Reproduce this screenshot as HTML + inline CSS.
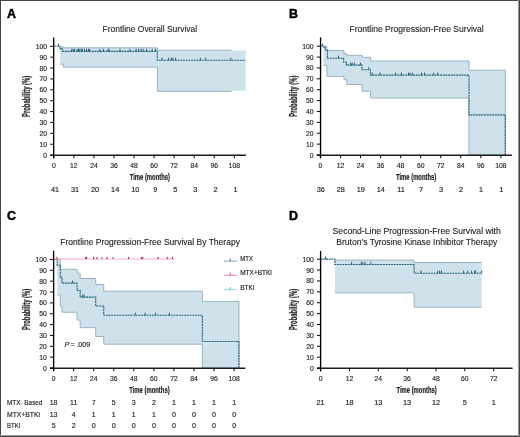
<!DOCTYPE html><html><head><meta charset="utf-8"><style>html,body{margin:0;padding:0;background:#fff;overflow:hidden}svg{display:block} text{will-change:transform}</style></head><body>
<svg width="520" height="437" viewBox="0 0 520 437" font-family='"Liberation Sans", sans-serif'>
<defs><filter id="gs" x="-20%" y="-20%" width="140%" height="140%"><feColorMatrix type="saturate" values="0"/></filter></defs>
<rect width="520" height="437" fill="#fff"/>
<polygon points="60.15,46.84 63.33,46.84 63.33,47.82 157.42,47.82 157.42,50.22 231.46,50.22 231.46,50.43 245.67,50.43 245.67,90.69 231.46,90.69 231.46,91.34 157.42,91.34 157.42,67.08 63.33,67.08 63.33,64.14 60.15,64.14" fill="#cfe2ec"/>
<polyline points="60.15,46.84 63.33,46.84 63.33,47.82 157.42,47.82 157.42,50.22 231.46,50.22" fill="none" stroke="#98b2c1" stroke-width="1"/>
<polyline points="60.15,64.14 63.33,64.14 63.33,67.08 157.42,67.08 157.42,91.34 231.46,91.34" fill="none" stroke="#98b2c1" stroke-width="1"/>
<path d="M53.8,46.3H59.82V48.58H62.32V51.41H157.25V60.23H245.67" fill="none" stroke="#22607a" stroke-width="1.1" stroke-dasharray="2 0.7"/>
<line x1="58.48" y1="46.3" x2="58.48" y2="43.7" stroke="#22607a" stroke-width="1"/>
<line x1="71.68" y1="51.41" x2="71.68" y2="48.81" stroke="#22607a" stroke-width="1"/>
<line x1="73.02" y1="51.41" x2="73.02" y2="48.81" stroke="#22607a" stroke-width="1"/>
<line x1="74.52" y1="51.41" x2="74.52" y2="48.81" stroke="#22607a" stroke-width="1"/>
<line x1="77.2" y1="51.41" x2="77.2" y2="48.81" stroke="#22607a" stroke-width="1"/>
<line x1="78.54" y1="51.41" x2="78.54" y2="48.81" stroke="#22607a" stroke-width="1"/>
<line x1="79.87" y1="51.41" x2="79.87" y2="48.81" stroke="#22607a" stroke-width="1"/>
<line x1="81.21" y1="51.41" x2="81.21" y2="48.81" stroke="#22607a" stroke-width="1"/>
<line x1="82.55" y1="51.41" x2="82.55" y2="48.81" stroke="#22607a" stroke-width="1"/>
<line x1="84.55" y1="51.41" x2="84.55" y2="48.81" stroke="#22607a" stroke-width="1"/>
<line x1="86.56" y1="51.41" x2="86.56" y2="48.81" stroke="#22607a" stroke-width="1"/>
<line x1="88.56" y1="51.41" x2="88.56" y2="48.81" stroke="#22607a" stroke-width="1"/>
<line x1="89.57" y1="51.41" x2="89.57" y2="48.81" stroke="#22607a" stroke-width="1"/>
<line x1="99.93" y1="51.41" x2="99.93" y2="48.81" stroke="#22607a" stroke-width="1"/>
<line x1="103.44" y1="51.41" x2="103.44" y2="48.81" stroke="#22607a" stroke-width="1"/>
<line x1="107.95" y1="51.41" x2="107.95" y2="48.81" stroke="#22607a" stroke-width="1"/>
<line x1="109.12" y1="51.41" x2="109.12" y2="48.81" stroke="#22607a" stroke-width="1"/>
<line x1="119.98" y1="51.41" x2="119.98" y2="48.81" stroke="#22607a" stroke-width="1"/>
<line x1="129.84" y1="51.41" x2="129.84" y2="48.81" stroke="#22607a" stroke-width="1"/>
<line x1="136.03" y1="51.41" x2="136.03" y2="48.81" stroke="#22607a" stroke-width="1"/>
<line x1="138.53" y1="51.41" x2="138.53" y2="48.81" stroke="#22607a" stroke-width="1"/>
<line x1="141.04" y1="51.41" x2="141.04" y2="48.81" stroke="#22607a" stroke-width="1"/>
<line x1="143.05" y1="51.41" x2="143.05" y2="48.81" stroke="#22607a" stroke-width="1"/>
<line x1="146.56" y1="51.41" x2="146.56" y2="48.81" stroke="#22607a" stroke-width="1"/>
<line x1="152.24" y1="51.41" x2="152.24" y2="48.81" stroke="#22607a" stroke-width="1"/>
<line x1="155.58" y1="51.41" x2="155.58" y2="48.81" stroke="#22607a" stroke-width="1"/>
<line x1="161.93" y1="60.23" x2="161.93" y2="57.63" stroke="#22607a" stroke-width="1"/>
<line x1="168.62" y1="60.23" x2="168.62" y2="57.63" stroke="#22607a" stroke-width="1"/>
<line x1="171.46" y1="60.23" x2="171.46" y2="57.63" stroke="#22607a" stroke-width="1"/>
<line x1="172.96" y1="60.23" x2="172.96" y2="57.63" stroke="#22607a" stroke-width="1"/>
<line x1="175.64" y1="60.23" x2="175.64" y2="57.63" stroke="#22607a" stroke-width="1"/>
<line x1="200.37" y1="60.23" x2="200.37" y2="57.63" stroke="#22607a" stroke-width="1"/>
<line x1="205.72" y1="60.23" x2="205.72" y2="57.63" stroke="#22607a" stroke-width="1"/>
<line x1="230.79" y1="60.23" x2="230.79" y2="57.63" stroke="#22607a" stroke-width="1"/>
<line x1="53.68" y1="37.6" x2="53.68" y2="158.3" stroke="#000" stroke-width="1.35"/>
<line x1="50.2" y1="155.25" x2="245.9" y2="155.25" stroke="#1c1c1c" stroke-width="1.5"/>
<line x1="50.2" y1="155.1" x2="53.8" y2="155.1" stroke="#080808" stroke-width="1"/>
<text x="47" y="157.6" font-size="7.4" text-anchor="end" fill="#222" textLength="3.79" lengthAdjust="spacingAndGlyphs" stroke="#222" stroke-width="0.15">0</text>
<line x1="50.2" y1="144.22" x2="53.8" y2="144.22" stroke="#080808" stroke-width="1"/>
<text x="47" y="146.72" font-size="7.4" text-anchor="end" fill="#222" textLength="7.57" lengthAdjust="spacingAndGlyphs" stroke="#222" stroke-width="0.15">10</text>
<line x1="50.2" y1="133.34" x2="53.8" y2="133.34" stroke="#080808" stroke-width="1"/>
<text x="47" y="135.84" font-size="7.4" text-anchor="end" fill="#222" textLength="7.57" lengthAdjust="spacingAndGlyphs" stroke="#222" stroke-width="0.15">20</text>
<line x1="50.2" y1="122.46" x2="53.8" y2="122.46" stroke="#080808" stroke-width="1"/>
<text x="47" y="124.96" font-size="7.4" text-anchor="end" fill="#222" textLength="7.57" lengthAdjust="spacingAndGlyphs" stroke="#222" stroke-width="0.15">30</text>
<line x1="50.2" y1="111.58" x2="53.8" y2="111.58" stroke="#080808" stroke-width="1"/>
<text x="47" y="114.08" font-size="7.4" text-anchor="end" fill="#222" textLength="7.57" lengthAdjust="spacingAndGlyphs" stroke="#222" stroke-width="0.15">40</text>
<line x1="50.2" y1="100.7" x2="53.8" y2="100.7" stroke="#080808" stroke-width="1"/>
<text x="47" y="103.2" font-size="7.4" text-anchor="end" fill="#222" textLength="7.57" lengthAdjust="spacingAndGlyphs" stroke="#222" stroke-width="0.15">50</text>
<line x1="50.2" y1="89.82" x2="53.8" y2="89.82" stroke="#080808" stroke-width="1"/>
<text x="47" y="92.32" font-size="7.4" text-anchor="end" fill="#222" textLength="7.57" lengthAdjust="spacingAndGlyphs" stroke="#222" stroke-width="0.15">60</text>
<line x1="50.2" y1="78.94" x2="53.8" y2="78.94" stroke="#080808" stroke-width="1"/>
<text x="47" y="81.44" font-size="7.4" text-anchor="end" fill="#222" textLength="7.57" lengthAdjust="spacingAndGlyphs" stroke="#222" stroke-width="0.15">70</text>
<line x1="50.2" y1="68.06" x2="53.8" y2="68.06" stroke="#080808" stroke-width="1"/>
<text x="47" y="70.56" font-size="7.4" text-anchor="end" fill="#222" textLength="7.57" lengthAdjust="spacingAndGlyphs" stroke="#222" stroke-width="0.15">80</text>
<line x1="50.2" y1="57.18" x2="53.8" y2="57.18" stroke="#080808" stroke-width="1"/>
<text x="47" y="59.68" font-size="7.4" text-anchor="end" fill="#222" textLength="7.57" lengthAdjust="spacingAndGlyphs" stroke="#222" stroke-width="0.15">90</text>
<line x1="50.2" y1="46.3" x2="53.8" y2="46.3" stroke="#080808" stroke-width="1"/>
<text x="47" y="48.8" font-size="7.4" text-anchor="end" fill="#222" textLength="11.36" lengthAdjust="spacingAndGlyphs" stroke="#222" stroke-width="0.15">100</text>
<line x1="53.8" y1="155.1" x2="53.8" y2="158.3" stroke="#080808" stroke-width="1"/>
<text x="53.8" y="168.2" font-size="7.4" text-anchor="middle" fill="#222" textLength="3.79" lengthAdjust="spacingAndGlyphs" stroke="#222" stroke-width="0.15">0</text>
<line x1="73.86" y1="155.1" x2="73.86" y2="158.3" stroke="#080808" stroke-width="1"/>
<text x="73.86" y="168.2" font-size="7.4" text-anchor="middle" fill="#222" textLength="7.57" lengthAdjust="spacingAndGlyphs" stroke="#222" stroke-width="0.15">12</text>
<line x1="93.91" y1="155.1" x2="93.91" y2="158.3" stroke="#080808" stroke-width="1"/>
<text x="93.91" y="168.2" font-size="7.4" text-anchor="middle" fill="#222" textLength="7.57" lengthAdjust="spacingAndGlyphs" stroke="#222" stroke-width="0.15">24</text>
<line x1="113.97" y1="155.1" x2="113.97" y2="158.3" stroke="#080808" stroke-width="1"/>
<text x="113.97" y="168.2" font-size="7.4" text-anchor="middle" fill="#222" textLength="7.57" lengthAdjust="spacingAndGlyphs" stroke="#222" stroke-width="0.15">36</text>
<line x1="134.02" y1="155.1" x2="134.02" y2="158.3" stroke="#080808" stroke-width="1"/>
<text x="134.02" y="168.2" font-size="7.4" text-anchor="middle" fill="#222" textLength="7.57" lengthAdjust="spacingAndGlyphs" stroke="#222" stroke-width="0.15">48</text>
<line x1="154.08" y1="155.1" x2="154.08" y2="158.3" stroke="#080808" stroke-width="1"/>
<text x="154.08" y="168.2" font-size="7.4" text-anchor="middle" fill="#222" textLength="7.57" lengthAdjust="spacingAndGlyphs" stroke="#222" stroke-width="0.15">60</text>
<line x1="174.13" y1="155.1" x2="174.13" y2="158.3" stroke="#080808" stroke-width="1"/>
<text x="174.13" y="168.2" font-size="7.4" text-anchor="middle" fill="#222" textLength="7.57" lengthAdjust="spacingAndGlyphs" stroke="#222" stroke-width="0.15">72</text>
<line x1="194.19" y1="155.1" x2="194.19" y2="158.3" stroke="#080808" stroke-width="1"/>
<text x="194.19" y="168.2" font-size="7.4" text-anchor="middle" fill="#222" textLength="7.57" lengthAdjust="spacingAndGlyphs" stroke="#222" stroke-width="0.15">84</text>
<line x1="214.24" y1="155.1" x2="214.24" y2="158.3" stroke="#080808" stroke-width="1"/>
<text x="214.24" y="168.2" font-size="7.4" text-anchor="middle" fill="#222" textLength="7.57" lengthAdjust="spacingAndGlyphs" stroke="#222" stroke-width="0.15">96</text>
<line x1="234.3" y1="155.1" x2="234.3" y2="158.3" stroke="#080808" stroke-width="1"/>
<text x="234.3" y="168.2" font-size="7.4" text-anchor="middle" fill="#222" textLength="11.36" lengthAdjust="spacingAndGlyphs" stroke="#222" stroke-width="0.15">108</text>
<text x="149.85" y="180" font-size="8.7" text-anchor="middle" fill="#222" textLength="40.4" lengthAdjust="spacingAndGlyphs" font-weight="bold" stroke="#222" stroke-width="0.2">Time (months)</text>
<g filter="url(#gs)"><text transform="translate(30.3,96.35) rotate(-90)" style="will-change:auto" font-size="10.2" font-weight="bold" text-anchor="middle" fill="#222" stroke="#222" stroke-width="0.2" textLength="41.2" lengthAdjust="spacingAndGlyphs">Probability (%)</text></g>
<text x="55" y="192" font-size="7.3" text-anchor="middle" fill="#222" stroke="#222" stroke-width="0.15">41</text>
<text x="75.06" y="192" font-size="7.3" text-anchor="middle" fill="#222" stroke="#222" stroke-width="0.15">31</text>
<text x="95.11" y="192" font-size="7.3" text-anchor="middle" fill="#222" stroke="#222" stroke-width="0.15">20</text>
<text x="115.17" y="192" font-size="7.3" text-anchor="middle" fill="#222" stroke="#222" stroke-width="0.15">14</text>
<text x="135.22" y="192" font-size="7.3" text-anchor="middle" fill="#222" stroke="#222" stroke-width="0.15">10</text>
<text x="155.28" y="192" font-size="7.3" text-anchor="middle" fill="#222" stroke="#222" stroke-width="0.15">9</text>
<text x="175.33" y="192" font-size="7.3" text-anchor="middle" fill="#222" stroke="#222" stroke-width="0.15">5</text>
<text x="195.39" y="192" font-size="7.3" text-anchor="middle" fill="#222" stroke="#222" stroke-width="0.15">3</text>
<text x="215.44" y="192" font-size="7.3" text-anchor="middle" fill="#222" stroke="#222" stroke-width="0.15">2</text>
<text x="235.5" y="192" font-size="7.3" text-anchor="middle" fill="#222" stroke="#222" stroke-width="0.15">1</text>
<text x="6.9" y="17.6" font-size="12.4" text-anchor="start" fill="#000" font-weight="bold" stroke="#000" stroke-width="0.5">A</text>
<text x="149.8" y="31.7" font-size="9.3" text-anchor="middle" fill="#222" textLength="94.6" lengthAdjust="spacingAndGlyphs" stroke="#222" stroke-width="0.12">Frontline Overall Survival</text>
<polygon points="323.41,46.2 326.92,46.2 326.92,50.55 343.97,50.55 343.97,53.82 346.81,53.82 346.81,55.34 362.18,55.34 362.18,57.3 370.54,57.3 370.54,61 468.98,61 468.98,70.24 505.25,70.24 505.25,155 468.98,155 468.98,97.99 370.54,97.99 370.54,91.24 362.18,91.24 362.18,84.5 346.81,84.5 346.81,79.71 343.97,79.71 343.97,76.34 326.92,76.34 326.92,65.35 323.41,65.35" fill="#cfe2ec"/>
<polyline points="323.41,46.2 326.92,46.2 326.92,50.55 343.97,50.55 343.97,53.82 346.81,53.82 346.81,55.34 362.18,55.34 362.18,57.3 370.54,57.3 370.54,61 468.98,61 468.98,70.24 505.25,70.24" fill="none" stroke="#98b2c1" stroke-width="1"/>
<polyline points="323.41,65.35 326.92,65.35 326.92,76.34 343.97,76.34 343.97,79.71 346.81,79.71 346.81,84.5 362.18,84.5 362.18,91.24 370.54,91.24 370.54,97.99 468.98,97.99 468.98,155 505.25,155" fill="none" stroke="#98b2c1" stroke-width="1"/>
<line x1="505.25" y1="70.24" x2="505.25" y2="155" stroke="#98b2c1" stroke-width="1"/>
<path d="M320.4,46.2H323.74V47.83H325.41V50.01H327.42V58.28H343.63V62.3H346.47V65.13H361.85V69.7H370.37V75.14H468.98V114.85H505.25V155" fill="none" stroke="#22607a" stroke-width="1.1" stroke-dasharray="2 0.7"/>
<line x1="322.41" y1="46.2" x2="322.41" y2="43.6" stroke="#22607a" stroke-width="1"/>
<line x1="338.62" y1="58.28" x2="338.62" y2="55.68" stroke="#22607a" stroke-width="1"/>
<line x1="350.48" y1="65.13" x2="350.48" y2="62.53" stroke="#22607a" stroke-width="1"/>
<line x1="352.15" y1="65.13" x2="352.15" y2="62.53" stroke="#22607a" stroke-width="1"/>
<line x1="354.33" y1="65.13" x2="354.33" y2="62.53" stroke="#22607a" stroke-width="1"/>
<line x1="360.51" y1="65.13" x2="360.51" y2="62.53" stroke="#22607a" stroke-width="1"/>
<line x1="368.87" y1="69.7" x2="368.87" y2="67.1" stroke="#22607a" stroke-width="1"/>
<line x1="372.29" y1="75.14" x2="372.29" y2="72.54" stroke="#22607a" stroke-width="1"/>
<line x1="380.07" y1="75.14" x2="380.07" y2="72.54" stroke="#22607a" stroke-width="1"/>
<line x1="395.44" y1="75.14" x2="395.44" y2="72.54" stroke="#22607a" stroke-width="1"/>
<line x1="401.46" y1="75.14" x2="401.46" y2="72.54" stroke="#22607a" stroke-width="1"/>
<line x1="408.48" y1="75.14" x2="408.48" y2="72.54" stroke="#22607a" stroke-width="1"/>
<line x1="409.98" y1="75.14" x2="409.98" y2="72.54" stroke="#22607a" stroke-width="1"/>
<line x1="412.32" y1="75.14" x2="412.32" y2="72.54" stroke="#22607a" stroke-width="1"/>
<line x1="421.51" y1="75.14" x2="421.51" y2="72.54" stroke="#22607a" stroke-width="1"/>
<line x1="424.52" y1="75.14" x2="424.52" y2="72.54" stroke="#22607a" stroke-width="1"/>
<line x1="433.71" y1="75.14" x2="433.71" y2="72.54" stroke="#22607a" stroke-width="1"/>
<line x1="437.73" y1="75.14" x2="437.73" y2="72.54" stroke="#22607a" stroke-width="1"/>
<line x1="320.55" y1="37.4" x2="320.55" y2="158.2" stroke="#000" stroke-width="1.35"/>
<line x1="316.8" y1="155.15" x2="511.9" y2="155.15" stroke="#1c1c1c" stroke-width="1.5"/>
<line x1="316.8" y1="155" x2="320.4" y2="155" stroke="#080808" stroke-width="1"/>
<text x="313.6" y="157.5" font-size="7.4" text-anchor="end" fill="#222" textLength="3.79" lengthAdjust="spacingAndGlyphs" stroke="#222" stroke-width="0.15">0</text>
<line x1="316.8" y1="144.12" x2="320.4" y2="144.12" stroke="#080808" stroke-width="1"/>
<text x="313.6" y="146.62" font-size="7.4" text-anchor="end" fill="#222" textLength="7.57" lengthAdjust="spacingAndGlyphs" stroke="#222" stroke-width="0.15">10</text>
<line x1="316.8" y1="133.24" x2="320.4" y2="133.24" stroke="#080808" stroke-width="1"/>
<text x="313.6" y="135.74" font-size="7.4" text-anchor="end" fill="#222" textLength="7.57" lengthAdjust="spacingAndGlyphs" stroke="#222" stroke-width="0.15">20</text>
<line x1="316.8" y1="122.36" x2="320.4" y2="122.36" stroke="#080808" stroke-width="1"/>
<text x="313.6" y="124.86" font-size="7.4" text-anchor="end" fill="#222" textLength="7.57" lengthAdjust="spacingAndGlyphs" stroke="#222" stroke-width="0.15">30</text>
<line x1="316.8" y1="111.48" x2="320.4" y2="111.48" stroke="#080808" stroke-width="1"/>
<text x="313.6" y="113.98" font-size="7.4" text-anchor="end" fill="#222" textLength="7.57" lengthAdjust="spacingAndGlyphs" stroke="#222" stroke-width="0.15">40</text>
<line x1="316.8" y1="100.6" x2="320.4" y2="100.6" stroke="#080808" stroke-width="1"/>
<text x="313.6" y="103.1" font-size="7.4" text-anchor="end" fill="#222" textLength="7.57" lengthAdjust="spacingAndGlyphs" stroke="#222" stroke-width="0.15">50</text>
<line x1="316.8" y1="89.72" x2="320.4" y2="89.72" stroke="#080808" stroke-width="1"/>
<text x="313.6" y="92.22" font-size="7.4" text-anchor="end" fill="#222" textLength="7.57" lengthAdjust="spacingAndGlyphs" stroke="#222" stroke-width="0.15">60</text>
<line x1="316.8" y1="78.84" x2="320.4" y2="78.84" stroke="#080808" stroke-width="1"/>
<text x="313.6" y="81.34" font-size="7.4" text-anchor="end" fill="#222" textLength="7.57" lengthAdjust="spacingAndGlyphs" stroke="#222" stroke-width="0.15">70</text>
<line x1="316.8" y1="67.96" x2="320.4" y2="67.96" stroke="#080808" stroke-width="1"/>
<text x="313.6" y="70.46" font-size="7.4" text-anchor="end" fill="#222" textLength="7.57" lengthAdjust="spacingAndGlyphs" stroke="#222" stroke-width="0.15">80</text>
<line x1="316.8" y1="57.08" x2="320.4" y2="57.08" stroke="#080808" stroke-width="1"/>
<text x="313.6" y="59.58" font-size="7.4" text-anchor="end" fill="#222" textLength="7.57" lengthAdjust="spacingAndGlyphs" stroke="#222" stroke-width="0.15">90</text>
<line x1="316.8" y1="46.2" x2="320.4" y2="46.2" stroke="#080808" stroke-width="1"/>
<text x="313.6" y="48.7" font-size="7.4" text-anchor="end" fill="#222" textLength="11.36" lengthAdjust="spacingAndGlyphs" stroke="#222" stroke-width="0.15">100</text>
<line x1="320.4" y1="155" x2="320.4" y2="158.2" stroke="#080808" stroke-width="1"/>
<text x="320.4" y="168.1" font-size="7.4" text-anchor="middle" fill="#222" textLength="3.79" lengthAdjust="spacingAndGlyphs" stroke="#222" stroke-width="0.15">0</text>
<line x1="340.46" y1="155" x2="340.46" y2="158.2" stroke="#080808" stroke-width="1"/>
<text x="340.46" y="168.1" font-size="7.4" text-anchor="middle" fill="#222" textLength="7.57" lengthAdjust="spacingAndGlyphs" stroke="#222" stroke-width="0.15">12</text>
<line x1="360.51" y1="155" x2="360.51" y2="158.2" stroke="#080808" stroke-width="1"/>
<text x="360.51" y="168.1" font-size="7.4" text-anchor="middle" fill="#222" textLength="7.57" lengthAdjust="spacingAndGlyphs" stroke="#222" stroke-width="0.15">24</text>
<line x1="380.57" y1="155" x2="380.57" y2="158.2" stroke="#080808" stroke-width="1"/>
<text x="380.57" y="168.1" font-size="7.4" text-anchor="middle" fill="#222" textLength="7.57" lengthAdjust="spacingAndGlyphs" stroke="#222" stroke-width="0.15">36</text>
<line x1="400.62" y1="155" x2="400.62" y2="158.2" stroke="#080808" stroke-width="1"/>
<text x="400.62" y="168.1" font-size="7.4" text-anchor="middle" fill="#222" textLength="7.57" lengthAdjust="spacingAndGlyphs" stroke="#222" stroke-width="0.15">48</text>
<line x1="420.68" y1="155" x2="420.68" y2="158.2" stroke="#080808" stroke-width="1"/>
<text x="420.68" y="168.1" font-size="7.4" text-anchor="middle" fill="#222" textLength="7.57" lengthAdjust="spacingAndGlyphs" stroke="#222" stroke-width="0.15">60</text>
<line x1="440.73" y1="155" x2="440.73" y2="158.2" stroke="#080808" stroke-width="1"/>
<text x="440.73" y="168.1" font-size="7.4" text-anchor="middle" fill="#222" textLength="7.57" lengthAdjust="spacingAndGlyphs" stroke="#222" stroke-width="0.15">72</text>
<line x1="460.79" y1="155" x2="460.79" y2="158.2" stroke="#080808" stroke-width="1"/>
<text x="460.79" y="168.1" font-size="7.4" text-anchor="middle" fill="#222" textLength="7.57" lengthAdjust="spacingAndGlyphs" stroke="#222" stroke-width="0.15">84</text>
<line x1="480.84" y1="155" x2="480.84" y2="158.2" stroke="#080808" stroke-width="1"/>
<text x="480.84" y="168.1" font-size="7.4" text-anchor="middle" fill="#222" textLength="7.57" lengthAdjust="spacingAndGlyphs" stroke="#222" stroke-width="0.15">96</text>
<line x1="500.9" y1="155" x2="500.9" y2="158.2" stroke="#080808" stroke-width="1"/>
<text x="500.9" y="168.1" font-size="7.4" text-anchor="middle" fill="#222" textLength="11.36" lengthAdjust="spacingAndGlyphs" stroke="#222" stroke-width="0.15">108</text>
<text x="416.15" y="179.9" font-size="8.7" text-anchor="middle" fill="#222" textLength="40.4" lengthAdjust="spacingAndGlyphs" font-weight="bold" stroke="#222" stroke-width="0.2">Time (months)</text>
<g filter="url(#gs)"><text transform="translate(296.9,96.2) rotate(-90)" style="will-change:auto" font-size="10.2" font-weight="bold" text-anchor="middle" fill="#222" stroke="#222" stroke-width="0.2" textLength="41.2" lengthAdjust="spacingAndGlyphs">Probability (%)</text></g>
<text x="320.7" y="191.8" font-size="7.3" text-anchor="middle" fill="#222" stroke="#222" stroke-width="0.15">36</text>
<text x="340.76" y="191.8" font-size="7.3" text-anchor="middle" fill="#222" stroke="#222" stroke-width="0.15">28</text>
<text x="360.81" y="191.8" font-size="7.3" text-anchor="middle" fill="#222" stroke="#222" stroke-width="0.15">19</text>
<text x="380.87" y="191.8" font-size="7.3" text-anchor="middle" fill="#222" stroke="#222" stroke-width="0.15">14</text>
<text x="400.92" y="191.8" font-size="7.3" text-anchor="middle" fill="#222" stroke="#222" stroke-width="0.15">11</text>
<text x="420.98" y="191.8" font-size="7.3" text-anchor="middle" fill="#222" stroke="#222" stroke-width="0.15">7</text>
<text x="441.03" y="191.8" font-size="7.3" text-anchor="middle" fill="#222" stroke="#222" stroke-width="0.15">3</text>
<text x="461.09" y="191.8" font-size="7.3" text-anchor="middle" fill="#222" stroke="#222" stroke-width="0.15">2</text>
<text x="481.14" y="191.8" font-size="7.3" text-anchor="middle" fill="#222" stroke="#222" stroke-width="0.15">1</text>
<text x="501.2" y="191.8" font-size="7.3" text-anchor="middle" fill="#222" stroke="#222" stroke-width="0.15">1</text>
<text x="288.9" y="17.6" font-size="12.4" text-anchor="start" fill="#000" font-weight="bold" stroke="#000" stroke-width="0.5">B</text>
<text x="416.6" y="31.6" font-size="9.3" text-anchor="middle" fill="#222" textLength="134.3" lengthAdjust="spacingAndGlyphs" stroke="#222" stroke-width="0.12">Frontline Progression-Free Survival</text>
<polygon points="57.11,259.5 60.29,259.5 60.29,269.26 61.96,269.26 61.96,269.26 77,269.26 77,273.17 80.17,273.17 80.17,278.49 95.72,278.49 95.72,284.45 103.74,284.45 103.74,291.18 202.35,291.18 202.35,301.38 238.95,301.38 238.95,368 202.35,368 202.35,344.13 103.74,344.13 103.74,336.54 95.72,336.54 95.72,327.64 80.17,327.64 80.17,320.04 77,320.04 77,312.23 61.96,312.23 61.96,306.15 60.29,306.15 60.29,294.87 57.11,294.87" fill="#cfe2ec"/>
<polyline points="57.11,259.5 60.29,259.5 60.29,269.26 61.96,269.26 61.96,269.26 77,269.26 77,273.17 80.17,273.17 80.17,278.49 95.72,278.49 95.72,284.45 103.74,284.45 103.74,291.18 202.35,291.18 202.35,301.38 238.95,301.38" fill="none" stroke="#98b2c1" stroke-width="1"/>
<polyline points="57.11,294.87 60.29,294.87 60.29,306.15 61.96,306.15 61.96,312.23 77,312.23 77,320.04 80.17,320.04 80.17,327.64 95.72,327.64 95.72,336.54 103.74,336.54 103.74,344.13 202.35,344.13 202.35,368 238.95,368" fill="none" stroke="#98b2c1" stroke-width="1"/>
<line x1="238.95" y1="301.38" x2="238.95" y2="368" stroke="#98b2c1" stroke-width="1"/>
<path d="M53.6,259.5H57.11V265.25H60.29V277.19H61.96V283.15H77V290.21H80.17V297.15H95.72V305.94H103.74V315.27H202.35V341.53H238.95V368" fill="none" stroke="#22607a" stroke-width="1.1" stroke-dasharray="2 0.7"/>
<line x1="72.49" y1="283.15" x2="72.49" y2="280.55" stroke="#22607a" stroke-width="1"/>
<line x1="82.68" y1="297.15" x2="82.68" y2="294.55" stroke="#22607a" stroke-width="1"/>
<line x1="84.02" y1="297.15" x2="84.02" y2="294.55" stroke="#22607a" stroke-width="1"/>
<line x1="135.33" y1="315.27" x2="135.33" y2="312.67" stroke="#22607a" stroke-width="1"/>
<line x1="145.19" y1="315.27" x2="145.19" y2="312.67" stroke="#22607a" stroke-width="1"/>
<line x1="155.38" y1="315.27" x2="155.38" y2="312.67" stroke="#22607a" stroke-width="1"/>
<line x1="169.42" y1="315.27" x2="169.42" y2="312.67" stroke="#22607a" stroke-width="1"/>
<path d="M53.6,259.07H174.27" stroke="#f2a3b8" stroke-width="0.9" fill="none"/>
<line x1="56.94" y1="259.07" x2="56.94" y2="256.87" stroke="#b01c48" stroke-width="1"/>
<line x1="85.69" y1="259.07" x2="85.69" y2="256.87" stroke="#b01c48" stroke-width="1"/>
<line x1="86.69" y1="259.07" x2="86.69" y2="256.87" stroke="#b01c48" stroke-width="1"/>
<line x1="93.71" y1="259.07" x2="93.71" y2="256.87" stroke="#b01c48" stroke-width="1"/>
<line x1="97.05" y1="259.07" x2="97.05" y2="256.87" stroke="#b01c48" stroke-width="1"/>
<line x1="107.08" y1="259.07" x2="107.08" y2="256.87" stroke="#b01c48" stroke-width="1"/>
<line x1="128.64" y1="259.07" x2="128.64" y2="256.87" stroke="#b01c48" stroke-width="1"/>
<line x1="141.34" y1="259.07" x2="141.34" y2="256.87" stroke="#b01c48" stroke-width="1"/>
<line x1="142.85" y1="259.07" x2="142.85" y2="256.87" stroke="#b01c48" stroke-width="1"/>
<line x1="158.06" y1="259.07" x2="158.06" y2="256.87" stroke="#b01c48" stroke-width="1"/>
<line x1="167.25" y1="259.07" x2="167.25" y2="256.87" stroke="#b01c48" stroke-width="1"/>
<line x1="172.43" y1="259.07" x2="172.43" y2="256.87" stroke="#b01c48" stroke-width="1"/>
<line x1="102.07" y1="259.07" x2="102.07" y2="256.87" stroke="#3f7f8f" stroke-width="1"/>
<line x1="113.1" y1="259.07" x2="113.1" y2="256.87" stroke="#3f7f8f" stroke-width="1"/>
<line x1="53.62" y1="250.7" x2="53.62" y2="371.2" stroke="#000" stroke-width="1.35"/>
<line x1="50" y1="368.15" x2="245.3" y2="368.15" stroke="#1c1c1c" stroke-width="1.5"/>
<line x1="50" y1="368" x2="53.6" y2="368" stroke="#080808" stroke-width="1"/>
<text x="46.8" y="370.5" font-size="7.4" text-anchor="end" fill="#222" textLength="3.79" lengthAdjust="spacingAndGlyphs" stroke="#222" stroke-width="0.15">0</text>
<line x1="50" y1="357.15" x2="53.6" y2="357.15" stroke="#080808" stroke-width="1"/>
<text x="46.8" y="359.65" font-size="7.4" text-anchor="end" fill="#222" textLength="7.57" lengthAdjust="spacingAndGlyphs" stroke="#222" stroke-width="0.15">10</text>
<line x1="50" y1="346.3" x2="53.6" y2="346.3" stroke="#080808" stroke-width="1"/>
<text x="46.8" y="348.8" font-size="7.4" text-anchor="end" fill="#222" textLength="7.57" lengthAdjust="spacingAndGlyphs" stroke="#222" stroke-width="0.15">20</text>
<line x1="50" y1="335.45" x2="53.6" y2="335.45" stroke="#080808" stroke-width="1"/>
<text x="46.8" y="337.95" font-size="7.4" text-anchor="end" fill="#222" textLength="7.57" lengthAdjust="spacingAndGlyphs" stroke="#222" stroke-width="0.15">30</text>
<line x1="50" y1="324.6" x2="53.6" y2="324.6" stroke="#080808" stroke-width="1"/>
<text x="46.8" y="327.1" font-size="7.4" text-anchor="end" fill="#222" textLength="7.57" lengthAdjust="spacingAndGlyphs" stroke="#222" stroke-width="0.15">40</text>
<line x1="50" y1="313.75" x2="53.6" y2="313.75" stroke="#080808" stroke-width="1"/>
<text x="46.8" y="316.25" font-size="7.4" text-anchor="end" fill="#222" textLength="7.57" lengthAdjust="spacingAndGlyphs" stroke="#222" stroke-width="0.15">50</text>
<line x1="50" y1="302.9" x2="53.6" y2="302.9" stroke="#080808" stroke-width="1"/>
<text x="46.8" y="305.4" font-size="7.4" text-anchor="end" fill="#222" textLength="7.57" lengthAdjust="spacingAndGlyphs" stroke="#222" stroke-width="0.15">60</text>
<line x1="50" y1="292.05" x2="53.6" y2="292.05" stroke="#080808" stroke-width="1"/>
<text x="46.8" y="294.55" font-size="7.4" text-anchor="end" fill="#222" textLength="7.57" lengthAdjust="spacingAndGlyphs" stroke="#222" stroke-width="0.15">70</text>
<line x1="50" y1="281.2" x2="53.6" y2="281.2" stroke="#080808" stroke-width="1"/>
<text x="46.8" y="283.7" font-size="7.4" text-anchor="end" fill="#222" textLength="7.57" lengthAdjust="spacingAndGlyphs" stroke="#222" stroke-width="0.15">80</text>
<line x1="50" y1="270.35" x2="53.6" y2="270.35" stroke="#080808" stroke-width="1"/>
<text x="46.8" y="272.85" font-size="7.4" text-anchor="end" fill="#222" textLength="7.57" lengthAdjust="spacingAndGlyphs" stroke="#222" stroke-width="0.15">90</text>
<line x1="50" y1="259.5" x2="53.6" y2="259.5" stroke="#080808" stroke-width="1"/>
<text x="46.8" y="262" font-size="7.4" text-anchor="end" fill="#222" textLength="11.36" lengthAdjust="spacingAndGlyphs" stroke="#222" stroke-width="0.15">100</text>
<line x1="53.6" y1="368" x2="53.6" y2="371.2" stroke="#080808" stroke-width="1"/>
<text x="53.6" y="381.1" font-size="7.4" text-anchor="middle" fill="#222" textLength="3.79" lengthAdjust="spacingAndGlyphs" stroke="#222" stroke-width="0.15">0</text>
<line x1="73.66" y1="368" x2="73.66" y2="371.2" stroke="#080808" stroke-width="1"/>
<text x="73.66" y="381.1" font-size="7.4" text-anchor="middle" fill="#222" textLength="7.57" lengthAdjust="spacingAndGlyphs" stroke="#222" stroke-width="0.15">12</text>
<line x1="93.71" y1="368" x2="93.71" y2="371.2" stroke="#080808" stroke-width="1"/>
<text x="93.71" y="381.1" font-size="7.4" text-anchor="middle" fill="#222" textLength="7.57" lengthAdjust="spacingAndGlyphs" stroke="#222" stroke-width="0.15">24</text>
<line x1="113.77" y1="368" x2="113.77" y2="371.2" stroke="#080808" stroke-width="1"/>
<text x="113.77" y="381.1" font-size="7.4" text-anchor="middle" fill="#222" textLength="7.57" lengthAdjust="spacingAndGlyphs" stroke="#222" stroke-width="0.15">36</text>
<line x1="133.82" y1="368" x2="133.82" y2="371.2" stroke="#080808" stroke-width="1"/>
<text x="133.82" y="381.1" font-size="7.4" text-anchor="middle" fill="#222" textLength="7.57" lengthAdjust="spacingAndGlyphs" stroke="#222" stroke-width="0.15">48</text>
<line x1="153.88" y1="368" x2="153.88" y2="371.2" stroke="#080808" stroke-width="1"/>
<text x="153.88" y="381.1" font-size="7.4" text-anchor="middle" fill="#222" textLength="7.57" lengthAdjust="spacingAndGlyphs" stroke="#222" stroke-width="0.15">60</text>
<line x1="173.93" y1="368" x2="173.93" y2="371.2" stroke="#080808" stroke-width="1"/>
<text x="173.93" y="381.1" font-size="7.4" text-anchor="middle" fill="#222" textLength="7.57" lengthAdjust="spacingAndGlyphs" stroke="#222" stroke-width="0.15">72</text>
<line x1="193.99" y1="368" x2="193.99" y2="371.2" stroke="#080808" stroke-width="1"/>
<text x="193.99" y="381.1" font-size="7.4" text-anchor="middle" fill="#222" textLength="7.57" lengthAdjust="spacingAndGlyphs" stroke="#222" stroke-width="0.15">84</text>
<line x1="214.04" y1="368" x2="214.04" y2="371.2" stroke="#080808" stroke-width="1"/>
<text x="214.04" y="381.1" font-size="7.4" text-anchor="middle" fill="#222" textLength="7.57" lengthAdjust="spacingAndGlyphs" stroke="#222" stroke-width="0.15">96</text>
<line x1="234.1" y1="368" x2="234.1" y2="371.2" stroke="#080808" stroke-width="1"/>
<text x="234.1" y="381.1" font-size="7.4" text-anchor="middle" fill="#222" textLength="11.36" lengthAdjust="spacingAndGlyphs" stroke="#222" stroke-width="0.15">108</text>
<text x="149.45" y="392.9" font-size="8.7" text-anchor="middle" fill="#222" textLength="40.4" lengthAdjust="spacingAndGlyphs" font-weight="bold" stroke="#222" stroke-width="0.2">Time (months)</text>
<g filter="url(#gs)"><text transform="translate(30.1,309.35) rotate(-90)" style="will-change:auto" font-size="10.2" font-weight="bold" text-anchor="middle" fill="#222" stroke="#222" stroke-width="0.2" textLength="41.2" lengthAdjust="spacingAndGlyphs">Probability (%)</text></g>
<text x="7" y="404.9" font-size="7" text-anchor="start" fill="#222" textLength="35.4" lengthAdjust="spacingAndGlyphs" stroke="#222" stroke-width="0.15">MTX- Based</text>
<text x="7" y="416.5" font-size="7" text-anchor="start" fill="#222" textLength="33" lengthAdjust="spacingAndGlyphs" stroke="#222" stroke-width="0.15">MTX+BTKi</text>
<text x="7" y="428.2" font-size="7" text-anchor="start" fill="#222" textLength="13" lengthAdjust="spacingAndGlyphs" stroke="#222" stroke-width="0.15">BTKi</text>
<text x="53.6" y="404.9" font-size="7" text-anchor="middle" fill="#222" stroke="#222" stroke-width="0.15">18</text>
<text x="73.66" y="404.9" font-size="7" text-anchor="middle" fill="#222" stroke="#222" stroke-width="0.15">11</text>
<text x="93.71" y="404.9" font-size="7" text-anchor="middle" fill="#222" stroke="#222" stroke-width="0.15">7</text>
<text x="113.77" y="404.9" font-size="7" text-anchor="middle" fill="#222" stroke="#222" stroke-width="0.15">5</text>
<text x="133.82" y="404.9" font-size="7" text-anchor="middle" fill="#222" stroke="#222" stroke-width="0.15">3</text>
<text x="153.88" y="404.9" font-size="7" text-anchor="middle" fill="#222" stroke="#222" stroke-width="0.15">2</text>
<text x="173.93" y="404.9" font-size="7" text-anchor="middle" fill="#222" stroke="#222" stroke-width="0.15">1</text>
<text x="193.99" y="404.9" font-size="7" text-anchor="middle" fill="#222" stroke="#222" stroke-width="0.15">1</text>
<text x="214.04" y="404.9" font-size="7" text-anchor="middle" fill="#222" stroke="#222" stroke-width="0.15">1</text>
<text x="234.1" y="404.9" font-size="7" text-anchor="middle" fill="#222" stroke="#222" stroke-width="0.15">1</text>
<text x="53.6" y="416.5" font-size="7" text-anchor="middle" fill="#222" stroke="#222" stroke-width="0.15">13</text>
<text x="73.66" y="416.5" font-size="7" text-anchor="middle" fill="#222" stroke="#222" stroke-width="0.15">4</text>
<text x="93.71" y="416.5" font-size="7" text-anchor="middle" fill="#222" stroke="#222" stroke-width="0.15">1</text>
<text x="113.77" y="416.5" font-size="7" text-anchor="middle" fill="#222" stroke="#222" stroke-width="0.15">1</text>
<text x="133.82" y="416.5" font-size="7" text-anchor="middle" fill="#222" stroke="#222" stroke-width="0.15">1</text>
<text x="153.88" y="416.5" font-size="7" text-anchor="middle" fill="#222" stroke="#222" stroke-width="0.15">1</text>
<text x="173.93" y="416.5" font-size="7" text-anchor="middle" fill="#222" stroke="#222" stroke-width="0.15">0</text>
<text x="193.99" y="416.5" font-size="7" text-anchor="middle" fill="#222" stroke="#222" stroke-width="0.15">0</text>
<text x="214.04" y="416.5" font-size="7" text-anchor="middle" fill="#222" stroke="#222" stroke-width="0.15">0</text>
<text x="234.1" y="416.5" font-size="7" text-anchor="middle" fill="#222" stroke="#222" stroke-width="0.15">0</text>
<text x="53.6" y="428.2" font-size="7" text-anchor="middle" fill="#222" stroke="#222" stroke-width="0.15">5</text>
<text x="73.66" y="428.2" font-size="7" text-anchor="middle" fill="#222" stroke="#222" stroke-width="0.15">2</text>
<text x="93.71" y="428.2" font-size="7" text-anchor="middle" fill="#222" stroke="#222" stroke-width="0.15">0</text>
<text x="113.77" y="428.2" font-size="7" text-anchor="middle" fill="#222" stroke="#222" stroke-width="0.15">0</text>
<text x="133.82" y="428.2" font-size="7" text-anchor="middle" fill="#222" stroke="#222" stroke-width="0.15">0</text>
<text x="153.88" y="428.2" font-size="7" text-anchor="middle" fill="#222" stroke="#222" stroke-width="0.15">0</text>
<text x="173.93" y="428.2" font-size="7" text-anchor="middle" fill="#222" stroke="#222" stroke-width="0.15">0</text>
<text x="193.99" y="428.2" font-size="7" text-anchor="middle" fill="#222" stroke="#222" stroke-width="0.15">0</text>
<text x="214.04" y="428.2" font-size="7" text-anchor="middle" fill="#222" stroke="#222" stroke-width="0.15">0</text>
<text x="234.1" y="428.2" font-size="7" text-anchor="middle" fill="#222" stroke="#222" stroke-width="0.15">0</text>
<text x="6.9" y="220" font-size="12.4" text-anchor="start" fill="#000" font-weight="bold" stroke="#000" stroke-width="0.5">C</text>
<text x="150.1" y="244.6" font-size="9.3" text-anchor="middle" fill="#222" textLength="179.6" lengthAdjust="spacingAndGlyphs" stroke="#222" stroke-width="0.12">Frontline Progression-Free Survival By Therapy</text>
<text x="64.5" y="347.2" font-size="7.2" text-anchor="start" fill="#222" font-style="italic" stroke="#222" stroke-width="0.15">P</text>
<text x="70.4" y="347.2" font-size="7.2" text-anchor="start" fill="#222" stroke="#222" stroke-width="0.15">=</text>
<text x="90.2" y="347.2" font-size="7.2" text-anchor="end" fill="#222" stroke="#222" stroke-width="0.15">.009</text>
<line x1="224" y1="261.2" x2="236.8" y2="261.2" stroke="#2f6f9a" stroke-width="0.8" opacity="0.75"/>
<line x1="230.2" y1="261.2" x2="230.2" y2="258.59999999999997" stroke="#2f6f9a" stroke-width="1"/>
<text x="240.2" y="261.1" font-size="6.6" text-anchor="start" fill="#222" textLength="12.8" lengthAdjust="spacingAndGlyphs" stroke="#222" stroke-width="0.15">MTX</text>
<line x1="224" y1="275.3" x2="236.8" y2="275.3" stroke="#e0405f" stroke-width="0.8" opacity="0.75"/>
<line x1="230.2" y1="275.3" x2="230.2" y2="272.7" stroke="#e0405f" stroke-width="1"/>
<text x="240.2" y="275.2" font-size="6.6" text-anchor="start" fill="#222" textLength="31.6" lengthAdjust="spacingAndGlyphs" stroke="#222" stroke-width="0.15">MTX+BTKi</text>
<line x1="224" y1="289.7" x2="236.8" y2="289.7" stroke="#43b4de" stroke-width="0.8" opacity="0.75"/>
<line x1="230.2" y1="289.7" x2="230.2" y2="287.09999999999997" stroke="#43b4de" stroke-width="1"/>
<text x="240.2" y="289.6" font-size="6.6" text-anchor="start" fill="#222" textLength="14.1" lengthAdjust="spacingAndGlyphs" stroke="#222" stroke-width="0.15">BTKi</text>
<polygon points="334.9,260.13 414.12,260.13 414.12,262.53 481.67,262.53 481.67,307.2 414.12,307.2 414.12,292.82 334.9,292.82" fill="#cfe2ec"/>
<polyline points="334.9,260.13 414.12,260.13 414.12,262.53 481.67,262.53" fill="none" stroke="#98b2c1" stroke-width="1"/>
<polyline points="334.9,292.82 414.12,292.82 414.12,307.2 481.67,307.2" fill="none" stroke="#98b2c1" stroke-width="1"/>
<path d="M320.6,259.15H334.9V264.49H414.12V273.2H481.67" fill="none" stroke="#22607a" stroke-width="1.1" stroke-dasharray="2 0.7"/>
<line x1="325.41" y1="259.15" x2="325.41" y2="256.55" stroke="#22607a" stroke-width="1"/>
<line x1="351.61" y1="264.49" x2="351.61" y2="261.89" stroke="#22607a" stroke-width="1"/>
<line x1="361.23" y1="264.49" x2="361.23" y2="261.89" stroke="#22607a" stroke-width="1"/>
<line x1="362.91" y1="264.49" x2="362.91" y2="261.89" stroke="#22607a" stroke-width="1"/>
<line x1="365.07" y1="264.49" x2="365.07" y2="261.89" stroke="#22607a" stroke-width="1"/>
<line x1="370.84" y1="264.49" x2="370.84" y2="261.89" stroke="#22607a" stroke-width="1"/>
<line x1="421.09" y1="273.2" x2="421.09" y2="270.6" stroke="#22607a" stroke-width="1"/>
<line x1="437.67" y1="273.2" x2="437.67" y2="270.6" stroke="#22607a" stroke-width="1"/>
<line x1="439.6" y1="273.2" x2="439.6" y2="270.6" stroke="#22607a" stroke-width="1"/>
<line x1="441.52" y1="273.2" x2="441.52" y2="270.6" stroke="#22607a" stroke-width="1"/>
<line x1="463.64" y1="273.2" x2="463.64" y2="270.6" stroke="#22607a" stroke-width="1"/>
<line x1="467.72" y1="273.2" x2="467.72" y2="270.6" stroke="#22607a" stroke-width="1"/>
<line x1="471.57" y1="273.2" x2="471.57" y2="270.6" stroke="#22607a" stroke-width="1"/>
<line x1="474.7" y1="273.2" x2="474.7" y2="270.6" stroke="#22607a" stroke-width="1"/>
<line x1="475.66" y1="273.2" x2="475.66" y2="270.6" stroke="#22607a" stroke-width="1"/>
<line x1="481.67" y1="273.2" x2="481.67" y2="270.6" stroke="#22607a" stroke-width="1"/>
<line x1="320.6" y1="250.9" x2="320.6" y2="371.3" stroke="#000" stroke-width="1.35"/>
<line x1="317" y1="368.25" x2="512.6" y2="368.25" stroke="#1c1c1c" stroke-width="1.5"/>
<line x1="317" y1="368.1" x2="320.6" y2="368.1" stroke="#080808" stroke-width="1"/>
<text x="313.8" y="370.6" font-size="7.4" text-anchor="end" fill="#222" textLength="3.79" lengthAdjust="spacingAndGlyphs" stroke="#222" stroke-width="0.15">0</text>
<line x1="317" y1="357.21" x2="320.6" y2="357.21" stroke="#080808" stroke-width="1"/>
<text x="313.8" y="359.71" font-size="7.4" text-anchor="end" fill="#222" textLength="7.57" lengthAdjust="spacingAndGlyphs" stroke="#222" stroke-width="0.15">10</text>
<line x1="317" y1="346.31" x2="320.6" y2="346.31" stroke="#080808" stroke-width="1"/>
<text x="313.8" y="348.81" font-size="7.4" text-anchor="end" fill="#222" textLength="7.57" lengthAdjust="spacingAndGlyphs" stroke="#222" stroke-width="0.15">20</text>
<line x1="317" y1="335.42" x2="320.6" y2="335.42" stroke="#080808" stroke-width="1"/>
<text x="313.8" y="337.92" font-size="7.4" text-anchor="end" fill="#222" textLength="7.57" lengthAdjust="spacingAndGlyphs" stroke="#222" stroke-width="0.15">30</text>
<line x1="317" y1="324.52" x2="320.6" y2="324.52" stroke="#080808" stroke-width="1"/>
<text x="313.8" y="327.02" font-size="7.4" text-anchor="end" fill="#222" textLength="7.57" lengthAdjust="spacingAndGlyphs" stroke="#222" stroke-width="0.15">40</text>
<line x1="317" y1="313.62" x2="320.6" y2="313.62" stroke="#080808" stroke-width="1"/>
<text x="313.8" y="316.12" font-size="7.4" text-anchor="end" fill="#222" textLength="7.57" lengthAdjust="spacingAndGlyphs" stroke="#222" stroke-width="0.15">50</text>
<line x1="317" y1="302.73" x2="320.6" y2="302.73" stroke="#080808" stroke-width="1"/>
<text x="313.8" y="305.23" font-size="7.4" text-anchor="end" fill="#222" textLength="7.57" lengthAdjust="spacingAndGlyphs" stroke="#222" stroke-width="0.15">60</text>
<line x1="317" y1="291.84" x2="320.6" y2="291.84" stroke="#080808" stroke-width="1"/>
<text x="313.8" y="294.34" font-size="7.4" text-anchor="end" fill="#222" textLength="7.57" lengthAdjust="spacingAndGlyphs" stroke="#222" stroke-width="0.15">70</text>
<line x1="317" y1="280.94" x2="320.6" y2="280.94" stroke="#080808" stroke-width="1"/>
<text x="313.8" y="283.44" font-size="7.4" text-anchor="end" fill="#222" textLength="7.57" lengthAdjust="spacingAndGlyphs" stroke="#222" stroke-width="0.15">80</text>
<line x1="317" y1="270.05" x2="320.6" y2="270.05" stroke="#080808" stroke-width="1"/>
<text x="313.8" y="272.55" font-size="7.4" text-anchor="end" fill="#222" textLength="7.57" lengthAdjust="spacingAndGlyphs" stroke="#222" stroke-width="0.15">90</text>
<line x1="317" y1="259.15" x2="320.6" y2="259.15" stroke="#080808" stroke-width="1"/>
<text x="313.8" y="261.65" font-size="7.4" text-anchor="end" fill="#222" textLength="11.36" lengthAdjust="spacingAndGlyphs" stroke="#222" stroke-width="0.15">100</text>
<line x1="320.6" y1="368.1" x2="320.6" y2="371.3" stroke="#080808" stroke-width="1"/>
<text x="320.6" y="381.2" font-size="7.4" text-anchor="middle" fill="#222" textLength="3.79" lengthAdjust="spacingAndGlyphs" stroke="#222" stroke-width="0.15">0</text>
<line x1="349.45" y1="368.1" x2="349.45" y2="371.3" stroke="#080808" stroke-width="1"/>
<text x="349.45" y="381.2" font-size="7.4" text-anchor="middle" fill="#222" textLength="7.57" lengthAdjust="spacingAndGlyphs" stroke="#222" stroke-width="0.15">12</text>
<line x1="378.3" y1="368.1" x2="378.3" y2="371.3" stroke="#080808" stroke-width="1"/>
<text x="378.3" y="381.2" font-size="7.4" text-anchor="middle" fill="#222" textLength="7.57" lengthAdjust="spacingAndGlyphs" stroke="#222" stroke-width="0.15">24</text>
<line x1="407.14" y1="368.1" x2="407.14" y2="371.3" stroke="#080808" stroke-width="1"/>
<text x="407.14" y="381.2" font-size="7.4" text-anchor="middle" fill="#222" textLength="7.57" lengthAdjust="spacingAndGlyphs" stroke="#222" stroke-width="0.15">36</text>
<line x1="435.99" y1="368.1" x2="435.99" y2="371.3" stroke="#080808" stroke-width="1"/>
<text x="435.99" y="381.2" font-size="7.4" text-anchor="middle" fill="#222" textLength="7.57" lengthAdjust="spacingAndGlyphs" stroke="#222" stroke-width="0.15">48</text>
<line x1="464.84" y1="368.1" x2="464.84" y2="371.3" stroke="#080808" stroke-width="1"/>
<text x="464.84" y="381.2" font-size="7.4" text-anchor="middle" fill="#222" textLength="7.57" lengthAdjust="spacingAndGlyphs" stroke="#222" stroke-width="0.15">60</text>
<line x1="493.69" y1="368.1" x2="493.69" y2="371.3" stroke="#080808" stroke-width="1"/>
<text x="493.69" y="381.2" font-size="7.4" text-anchor="middle" fill="#222" textLength="7.57" lengthAdjust="spacingAndGlyphs" stroke="#222" stroke-width="0.15">72</text>
<text x="416.6" y="393" font-size="8.7" text-anchor="middle" fill="#222" textLength="40.4" lengthAdjust="spacingAndGlyphs" font-weight="bold" stroke="#222" stroke-width="0.2">Time (months)</text>
<g filter="url(#gs)"><text transform="translate(297.1,309.5) rotate(-90)" style="will-change:auto" font-size="10.2" font-weight="bold" text-anchor="middle" fill="#222" stroke="#222" stroke-width="0.2" textLength="41.2" lengthAdjust="spacingAndGlyphs">Probability (%)</text></g>
<text x="320.6" y="404.6" font-size="7.3" text-anchor="middle" fill="#222" stroke="#222" stroke-width="0.15">21</text>
<text x="349.45" y="404.6" font-size="7.3" text-anchor="middle" fill="#222" stroke="#222" stroke-width="0.15">18</text>
<text x="378.3" y="404.6" font-size="7.3" text-anchor="middle" fill="#222" stroke="#222" stroke-width="0.15">13</text>
<text x="407.14" y="404.6" font-size="7.3" text-anchor="middle" fill="#222" stroke="#222" stroke-width="0.15">13</text>
<text x="435.99" y="404.6" font-size="7.3" text-anchor="middle" fill="#222" stroke="#222" stroke-width="0.15">12</text>
<text x="464.84" y="404.6" font-size="7.3" text-anchor="middle" fill="#222" stroke="#222" stroke-width="0.15">5</text>
<text x="493.69" y="404.6" font-size="7.3" text-anchor="middle" fill="#222" stroke="#222" stroke-width="0.15">1</text>
<text x="288.9" y="220" font-size="12.4" text-anchor="start" fill="#000" font-weight="bold" stroke="#000" stroke-width="0.5">D</text>
<text x="416.7" y="234.3" font-size="9.3" text-anchor="middle" fill="#222" textLength="168.2" lengthAdjust="spacingAndGlyphs" stroke="#222" stroke-width="0.12">Second-Line Progression-Free Survival with</text>
<text x="416.7" y="245.4" font-size="9.3" text-anchor="middle" fill="#222" textLength="161" lengthAdjust="spacingAndGlyphs" stroke="#222" stroke-width="0.12">Bruton’s Tyrosine Kinase Inhibitor Therapy</text>
<rect x="0" y="0" width="520" height="1" fill="#444"/>
<rect x="0" y="0" width="1" height="437" fill="#444"/>
<rect x="519" y="0" width="1" height="437" fill="#444"/>
<rect x="518" y="0" width="1" height="437" fill="#999"/>
<rect x="0" y="436" width="520" height="1" fill="#444"/>
<rect x="0" y="435" width="520" height="1" fill="#999"/>
</svg></body></html>
